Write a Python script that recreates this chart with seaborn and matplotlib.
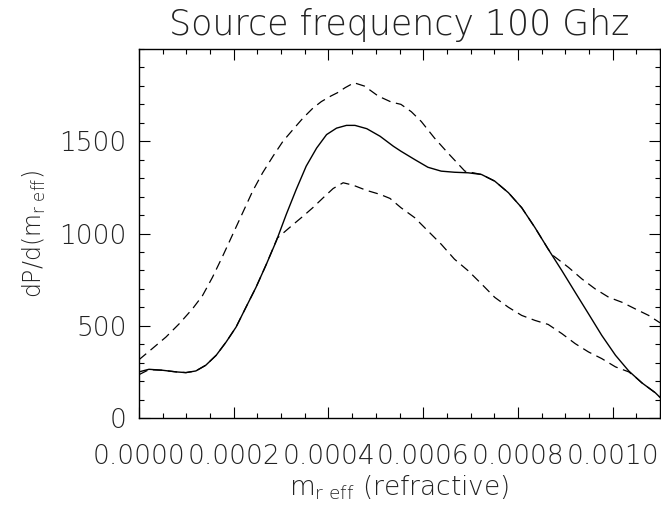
import numpy as np
import pandas as pd
import seaborn as sns
import matplotlib
matplotlib.use("Agg")
import matplotlib.pyplot as plt
from matplotlib.ticker import MultipleLocator, FormatStrFormatter

# ---- data (x in units of 1e-4) ----
x_solid_e4 = [0, 0.21, 0.49, 0.78, 0.99, 1.20, 1.41, 1.63, 1.84, 2.05, 2.26, 2.47,
              2.69, 2.90, 3.11, 3.32, 3.53, 3.75, 3.96, 4.17, 4.38, 4.56, 4.81,
              5.09, 5.37, 5.53, 5.82, 6.10, 6.38, 6.66, 6.95, 7.23, 7.51, 7.80,
              8.08, 8.36, 8.64, 8.93, 9.21, 9.49, 9.77, 10.06, 10.34, 10.62,
              10.90, 11.0]
y_solid = [250, 264, 259, 250, 246, 255, 286, 340, 412, 493, 601, 708,
           834, 960, 1104, 1239, 1365, 1463, 1536, 1571, 1586, 1586, 1568,
           1527, 1473, 1446, 1401, 1359, 1338, 1332, 1329, 1320, 1284, 1221,
           1140, 1032, 915, 798, 681, 565, 448, 340, 255, 190,
           137, 112]

x_upper_e4 = [0, 0.28, 0.57, 0.85, 1.13, 1.34, 1.55, 1.77, 1.98, 2.19, 2.40, 2.61,
              2.83, 3.04, 3.25, 3.46, 3.67, 3.85, 4.05, 4.19, 4.35, 4.54, 4.76,
              5.05, 5.33, 5.53, 5.75, 5.96, 6.24, 6.52, 6.88, 7.23, 7.51, 7.80,
              8.08, 8.36, 8.64, 8.75, 9.07, 9.35, 9.63, 9.92, 10.20, 10.48,
              10.76, 11.0]
y_upper = [316, 376, 439, 511, 592, 663, 762, 879, 996, 1113, 1230, 1329,
           1419, 1500, 1563, 1625, 1679, 1715, 1745, 1763, 1790, 1817, 1799,
           1745, 1712, 1700, 1660, 1607, 1517, 1437, 1338, 1320, 1284, 1221,
           1140, 1032, 915, 879, 816, 754, 700, 654, 627, 591,
           556, 516]

x_lower_e4 = [0, 0.21, 0.49, 0.78, 0.99, 1.20, 1.41, 1.63, 1.84, 2.05, 2.26, 2.47,
              2.69, 2.92, 3.26, 3.47, 3.67, 3.89, 4.10, 4.31, 4.52, 4.80, 5.09,
              5.30, 5.53, 5.82, 6.10, 6.38, 6.66, 6.95, 7.23, 7.51, 7.80, 8.08,
              8.36, 8.64, 8.93, 9.21, 9.49, 9.77, 10.06, 10.34, 10.48, 10.62,
              10.90, 11.0]
y_lower = [235, 262, 259, 250, 246, 255, 286, 340, 412, 493, 601, 708,
           834, 975, 1050, 1095, 1140, 1194, 1244, 1275, 1262, 1234, 1212,
           1190, 1140, 1086, 1014, 942, 861, 798, 727, 654, 600, 556,
           529, 507, 457, 403, 358, 322, 277, 250, 222, 190,
           137, 112]

title = "Source frequency 100 Ghz"
xlabel = "m$_{\\mathregular{r\\ eff}}$ (refractive)"
ylabel = "dP/d(m$_{\\mathregular{r\\ eff}}$)"

sns.set_style("ticks")
plt.rcParams['font.family'] = ['DejaVu Sans']
plt.rcParams['font.weight'] = 'light'
plt.rcParams['axes.titleweight'] = 'light'
plt.rcParams['axes.labelweight'] = 'light'
plt.rcParams['mathtext.default'] = 'regular'

txt_color = "#222222"

fig = plt.figure(figsize=(6.61, 5.05), dpi=100)
ax = fig.add_axes([139/661, 1-418/505, (660-139)/661, (418-49)/505])

df_s = pd.DataFrame({"x": np.array(x_solid_e4)*1e-4, "y": y_solid})
df_u = pd.DataFrame({"x": np.array(x_upper_e4)*1e-4, "y": y_upper})
df_l = pd.DataFrame({"x": np.array(x_lower_e4)*1e-4, "y": y_lower})

sns.lineplot(data=df_s, x="x", y="y", ax=ax, color="black", lw=1.0,
             sort=False, estimator=None)
sns.lineplot(data=df_u, x="x", y="y", ax=ax, color="black", lw=0.9,
             sort=False, estimator=None, linestyle=(0, (7.5, 4.5)))
sns.lineplot(data=df_l, x="x", y="y", ax=ax, color="black", lw=0.9,
             sort=False, estimator=None, linestyle=(0, (7.5, 4.5)))

ax.set_xlim(0, 0.0011)
ax.set_ylim(0, 2000)
ax.xaxis.set_major_locator(MultipleLocator(0.0002))
ax.xaxis.set_minor_locator(MultipleLocator(0.00005))
ax.xaxis.set_major_formatter(FormatStrFormatter("%.4f"))
ax.yaxis.set_minor_locator(MultipleLocator(100))
ax.set_yticks([0, 500, 1000, 1500])

ax.tick_params(which="both", direction="in", top=True, right=True,
               color="black", width=0.8, labelsize=19, labelcolor=txt_color)
ax.tick_params(which="major", length=8)
ax.tick_params(which="minor", length=3.8)
ax.tick_params(axis="x", which="major", pad=19)
ax.tick_params(axis="y", which="major", pad=9)
for s in ax.spines.values():
    s.set_linewidth(1.0)
    s.set_color("black")

ax.set_title(title, fontsize=25, pad=10, color=txt_color, fontweight='light')
ax.set_xlabel(xlabel, fontsize=19, labelpad=3, color=txt_color, fontweight='light')
ax.set_ylabel(ylabel, fontsize=17, labelpad=8, color=txt_color, fontweight='light')

fig.savefig("out.png", dpi=100)
